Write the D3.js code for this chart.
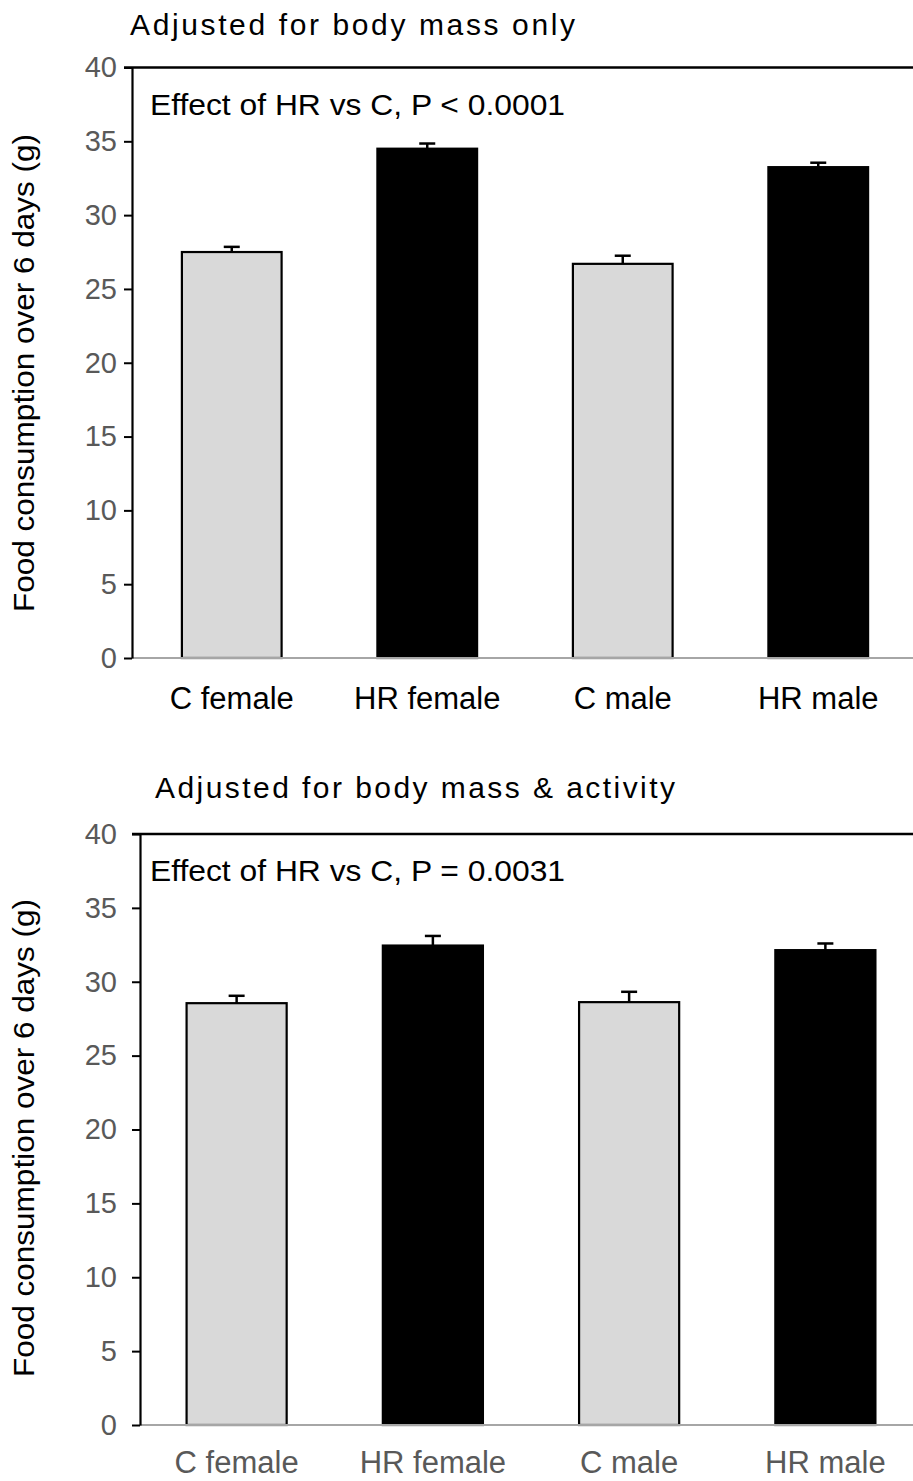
<!DOCTYPE html>
<html><head><meta charset="utf-8">
<script src="https://cdn.jsdelivr.net/npm/d3@7"></script>
<style>body{margin:0;background:#fff}svg{display:block}</style>
</head><body>
<svg id="c" width="913" height="1481"></svg>
<script>
const categories = ["C female", "HR female", "C male", "HR male"];
const groups = ["C", "HR", "C", "HR"];
const topValues = [27.5, 34.5, 26.7, 33.25];
const topErrors = [0.35, 0.35, 0.55, 0.3];
const bottomValues = [28.55, 32.45, 28.62, 32.14];
const bottomErrors = [0.5, 0.65, 0.7, 0.45];
const yTicks = [0, 5, 10, 15, 20, 25, 30, 35, 40];
const titles = ["Adjusted for body mass only", "Adjusted for body mass & activity"];
const notes = ["Effect of HR vs C, P < 0.0001", "Effect of HR vs C, P = 0.0031"];
const yLabel = "Food consumption over 6 days (g)";

const svg = d3.select("#c");
const font = "Arial, 'Liberation Sans', sans-serif";
const fills = {C: "#d9d9d9", HR: "#000000"};

const panels = [
  {values: topValues, errors: topErrors, title: titles[0], note: notes[0],
   axisX: 132, y0: 658, y1: 67.5, xr: [134, 916], titleX: 130, titleY: 35, titleW: 445,
   noteY: 115, noteW: 415, catY: 709, catColor: "#000", tickLabelX: 117, labelC: 373},
  {values: bottomValues, errors: bottomErrors, title: titles[1], note: notes[1],
   axisX: 140, y0: 1425, y1: 834, xr: [138.5, 923.5], titleX: 155, titleY: 798, titleW: 520,
   noteY: 881, noteW: 415, catY: 1473, catColor: "#595959", tickLabelX: 117, labelC: 1138}
];

panels.forEach(p => {
  const g = svg.append("g");
  const y = d3.scaleLinear().domain([0, 40]).range([p.y0, p.y1]);
  const x = d3.scaleBand().domain(categories).range(p.xr).paddingInner(0.49).paddingOuter(0.245);

  // title
  g.append("text").attr("x", p.titleX).attr("y", p.titleY)
    .attr("font-family", font).attr("font-size", 30).attr("fill", "#000")
    .attr("textLength", p.titleW).attr("lengthAdjust", "spacing")
    .text(p.title);

  // top frame line
  g.append("line").attr("x1", p.axisX - 8).attr("x2", 913)
    .attr("y1", y(40)).attr("y2", y(40)).attr("stroke", "#000").attr("stroke-width", 2.5);

  // bars
  g.selectAll("rect.bar").data(p.values).join("rect")
    .attr("x", (d, i) => x(categories[i]))
    .attr("width", x.bandwidth())
    .attr("y", d => y(d))
    .attr("height", d => y(0) - y(d))
    .attr("fill", (d, i) => fills[groups[i]])
    .attr("stroke", "#000").attr("stroke-width", 2.2);

  // error bars
  const eb = g.selectAll("g.eb").data(p.values).join("g");
  eb.append("line")
    .attr("x1", (d, i) => x(categories[i]) + x.bandwidth() / 2)
    .attr("x2", (d, i) => x(categories[i]) + x.bandwidth() / 2)
    .attr("y1", d => y(d)).attr("y2", (d, i) => y(d + p.errors[i]))
    .attr("stroke", "#000").attr("stroke-width", 2.5);
  eb.append("line")
    .attr("x1", (d, i) => x(categories[i]) + x.bandwidth() / 2 - 8)
    .attr("x2", (d, i) => x(categories[i]) + x.bandwidth() / 2 + 8)
    .attr("y1", (d, i) => y(d + p.errors[i])).attr("y2", (d, i) => y(d + p.errors[i]))
    .attr("stroke", "#000").attr("stroke-width", 2.5);

  // baseline (gray)
  g.append("line").attr("x1", p.axisX).attr("x2", 913)
    .attr("y1", y(0)).attr("y2", y(0)).attr("stroke", "#a6a6a6").attr("stroke-width", 2);

  // y axis
  const ax = g.append("g").attr("transform", `translate(${p.axisX},0)`)
    .call(d3.axisLeft(y).tickValues(yTicks).tickSize(8).tickPadding(p.axisX - 8 - p.tickLabelX).tickSizeOuter(0));
  ax.select(".domain").attr("stroke", "#000").attr("stroke-width", 2.2);
  ax.selectAll(".tick line").attr("stroke", "#000").attr("stroke-width", 2);
  ax.selectAll(".tick text").attr("font-family", font).attr("font-size", 29).attr("fill", "#595959");

  // note
  g.append("text").attr("x", 150).attr("y", p.noteY)
    .attr("font-family", font).attr("font-size", 29).attr("fill", "#000")
    .attr("textLength", p.noteW).attr("lengthAdjust", "spacingAndGlyphs").text(p.note);

  // categories
  g.selectAll("text.cat").data(categories).join("text")
    .attr("x", d => x(d) + x.bandwidth() / 2).attr("y", p.catY)
    .attr("text-anchor", "middle").attr("font-family", font).attr("font-size", 31)
    .attr("fill", p.catColor).text(d => d);

  // y label
  g.append("text")
    .attr("transform", `translate(34,${p.labelC}) rotate(-90)`)
    .attr("text-anchor", "middle").attr("font-family", font).attr("font-size", 30)
    .attr("textLength", 478).attr("lengthAdjust", "spacingAndGlyphs")
    .attr("fill", "#000").text(yLabel);
});
</script>
</body></html>
